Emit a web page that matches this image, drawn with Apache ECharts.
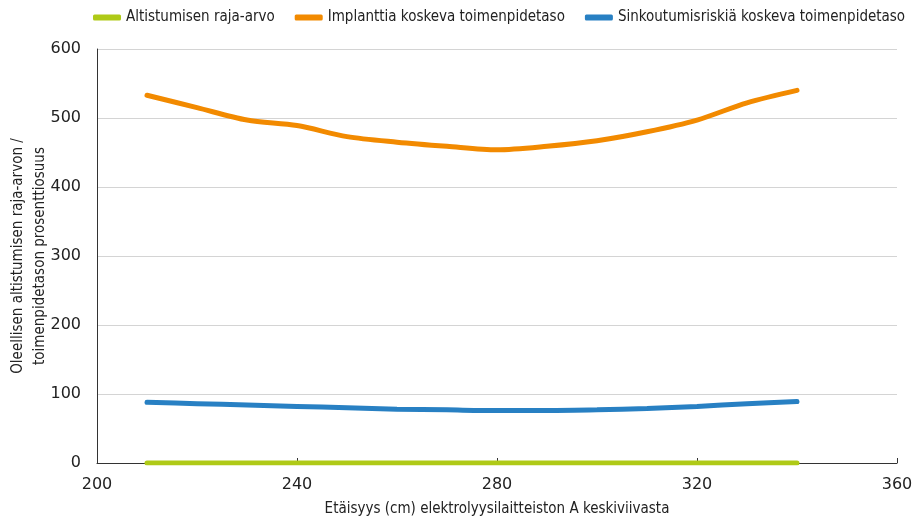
<!DOCTYPE html>
<html lang="fi">
<head>
    <title>Altistuminen</title>
    <meta charset="utf-8" />
    <script src="https://cdn.jsdelivr.net/npm/echarts@6/dist/echarts.min.js"></script>
    <style>
        html, body { margin: 0; padding: 0; background: #fff; }
        #main { width: 912px; height: 517px; }
    </style>
</head>
<body>
<div id="main"></div>
<script type="text/javascript">
    // etäisyys (cm)
    let distances = [210, 220, 230, 240, 250, 260, 270, 280, 290, 300, 310, 320, 330, 340]
    let limitValues = [0, 0, 0, 0, 0, 0, 0, 0, 0, 0, 0, 0, 0, 0]
    let implantValues = [533, 515, 497, 489, 473, 465, 459, 454, 459, 467, 480, 497, 522, 540]
    let sinkValues = [88, 86, 84, 82, 80, 78, 77, 76, 76, 77, 79, 82, 86, 89]

    let seriesNames = ['Altistumisen raja-arvo', 'Implanttia koskeva toimenpidetaso', 'Sinkoutumisriskiä koskeva toimenpidetaso']
    let colors = ['#afca17', '#f28a00', '#2880c3']

    let narrowFont = '"Liberation Sans Narrow", "DejaVu Sans Condensed", "Roboto Condensed", sans-serif'

    function pairs(values) {
        return distances.map(function (d, i) { return [d, values[i]] })
    }

    let myChart = echarts.init(document.getElementById('main'))

    let allValues = [limitValues, implantValues, sinkValues]
    let series = seriesNames.map(function (name, i) {
        return {
            name: name,
            type: 'line',
            data: pairs(allValues[i]),
            smooth: 0.3,
            symbol: 'none',
            lineStyle: { width: 5, color: colors[i], cap: 'round' },
            itemStyle: { color: colors[i] }
        }
    })

    myChart.setOption({
        animation: false,
        legend: {
            top: 10,
            left: 93,
            width: 819,
            padding: 0,
            itemWidth: 28,
            itemHeight: 6,
            itemGap: 20,
            icon: 'roundRect',
            textStyle: { fontFamily: narrowFont, fontSize: 15, color: '#222' },
            data: seriesNames
        },
        grid: { left: 97, right: 15, top: 49, bottom: 54, outerBoundsMode: 'none', containLabel: false },
        xAxis: {
            type: 'value',
            min: 200,
            max: 360,
            interval: 40,
            name: 'Etäisyys (cm) elektrolyysilaitteiston A keskiviivasta',
            nameLocation: 'middle',
            nameGap: 39,
            nameMoveOverlap: false,
            nameTextStyle: { fontFamily: narrowFont, fontSize: 15, color: '#222' },
            axisLine: { lineStyle: { color: '#333', width: 1 } },
            axisTick: { show: true, inside: true, length: 5, lineStyle: { color: '#333' } },
            axisLabel: { fontFamily: 'DejaVu Sans', fontSize: 16, color: '#222', margin: 14 },
            splitLine: { show: false }
        },
        yAxis: {
            type: 'value',
            min: 0,
            max: 600,
            interval: 100,
            name: 'Oleellisen altistumisen raja-arvon /\ntoimenpidetason prosenttiosuus',
            nameLocation: 'middle',
            nameGap: 46,
            nameMoveOverlap: false,
            nameTextStyle: { fontFamily: narrowFont, fontSize: 15, color: '#222', lineHeight: 22 },
            axisLine: { show: true, lineStyle: { color: '#333', width: 1 } },
            axisTick: { show: false },
            axisLabel: { fontFamily: 'DejaVu Sans', fontSize: 16, color: '#222', margin: 16 },
            splitLine: { lineStyle: { color: '#d4d4d4', width: 1 } }
        },
        series: series
    })
</script>
</body>
</html>
